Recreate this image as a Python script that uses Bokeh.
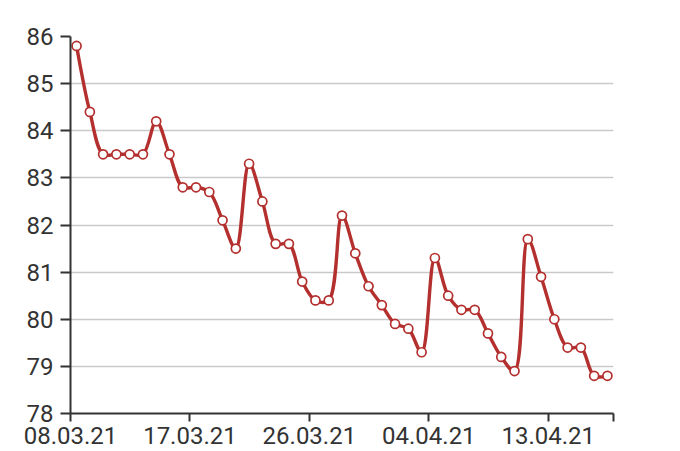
import math
import pandas as pd
from bokeh.plotting import figure
from bokeh.models import FixedTicker, Range1d
from bokeh.embed import file_html
from bokeh.resources import INLINE

# ---- data ----
axis_start = "2021-03-08 00:00"
axis_end = "2021-04-17 22:00"
first_obs = "2021-03-08 11:00"
values = [85.8, 84.4, 83.5, 83.5, 83.5, 83.5, 84.2, 83.5, 82.8, 82.8,
          82.7, 82.1, 81.5, 83.3, 82.5, 81.6, 81.6, 80.8, 80.4, 80.4,
          82.2, 81.4, 80.7, 80.3, 79.9, 79.8, 79.3, 81.3, 80.5, 80.2,
          80.2, 79.7, 79.2, 78.9, 81.7, 80.9, 80.0, 79.4, 79.4, 78.8, 78.8]
tick_dates = ["2021-03-08", "2021-03-17", "2021-03-26", "2021-04-04", "2021-04-13"]
tick_labels = ["08.03.21", "17.03.21", "26.03.21", "04.04.21", "13.04.21"]
y_ticks = [78, 79, 80, 81, 82, 83, 84, 85, 86]

RED = "#b3302e"
TXT = "#333333"

t0 = pd.Timestamp(axis_start)
dates = pd.date_range(first_obs, periods=len(values), freq="D")
xs = [(d - t0).total_seconds() / 86400 for d in dates]
x_end = (pd.Timestamp(axis_end) - t0).total_seconds() / 86400
tick_x = [(pd.Timestamp(d) - t0).total_seconds() / 86400 for d in tick_dates]

W, H = 680, 451
BL, BR, BT, BB = 70, 67, 36, 38
fw = W - BL - BR
fh = H - BT - BB
sx = fw / x_end
sy = fh / (y_ticks[-1] - y_ticks[0])


def catmull_rom(xv, yv, alpha=0.5):
    P = [(a * sx, b * sy) for a, b in zip(xv, yv)]
    n = len(P)
    out = {k: [] for k in ("x0", "y0", "x1", "y1", "cx0", "cy0", "cx1", "cy1")}
    eps = 1e-12

    def dist2a(a, b):
        return ((a[0] - b[0]) ** 2 + (a[1] - b[1]) ** 2) ** alpha

    for i in range(n - 1):
        p0 = P[i - 1] if i > 0 else P[i]
        p1, p2 = P[i], P[i + 1]
        p3 = P[i + 2] if i + 2 < n else P[i + 1]
        l01_2a, l12_2a, l23_2a = dist2a(p0, p1), dist2a(p1, p2), dist2a(p2, p3)
        l01_a, l12_a, l23_a = math.sqrt(l01_2a), math.sqrt(l12_2a), math.sqrt(l23_2a)
        c1 = p1
        if l01_a > eps:
            a = 2 * l01_2a + 3 * l01_a * l12_a + l12_2a
            nn = 3 * l01_a * (l01_a + l12_a)
            c1 = ((p1[0] * a - p0[0] * l12_2a + p2[0] * l01_2a) / nn,
                  (p1[1] * a - p0[1] * l12_2a + p2[1] * l01_2a) / nn)
        c2 = p2
        if l23_a > eps:
            b = 2 * l23_2a + 3 * l23_a * l12_a + l12_2a
            m = 3 * l23_a * (l23_a + l12_a)
            c2 = ((p2[0] * b + p1[0] * l23_2a - p3[0] * l12_2a) / m,
                  (p2[1] * b + p1[1] * l23_2a - p3[1] * l12_2a) / m)
        out["x0"].append(p1[0] / sx); out["y0"].append(p1[1] / sy)
        out["x1"].append(p2[0] / sx); out["y1"].append(p2[1] / sy)
        out["cx0"].append(c1[0] / sx); out["cy0"].append(c1[1] / sy)
        out["cx1"].append(c2[0] / sx); out["cy1"].append(c2[1] / sy)
    return out


p = figure(width=W, height=H, output_backend="svg", toolbar_location=None,
           x_range=Range1d(0, x_end), y_range=Range1d(y_ticks[0], y_ticks[-1]),
           min_border_left=BL, min_border_right=BR, min_border_top=BT, min_border_bottom=BB)
p.outline_line_color = None
p.background_fill_color = "white"
p.border_fill_color = "white"

seg = catmull_rom(xs, values)
p.bezier(x0=seg["x0"], y0=seg["y0"], x1=seg["x1"], y1=seg["y1"],
         cx0=seg["cx0"], cy0=seg["cy0"], cx1=seg["cx1"], cy1=seg["cy1"],
         line_color=RED, line_width=3.4, line_cap="round", line_join="round")
p.scatter(xs, values, size=9, fill_color="white", line_color=RED, line_width=1.7)

# axes
p.xgrid.visible = False
p.ygrid.grid_line_color = "#c9c9c9"
p.ygrid.grid_line_width = 1.6
p.ygrid.ticker = FixedTicker(ticks=y_ticks)

p.xaxis.ticker = FixedTicker(ticks=tick_x + [x_end])
overrides = {t: lab for t, lab in zip(tick_x, tick_labels)}
overrides[x_end] = ""
p.xaxis.major_label_overrides = overrides
p.yaxis.ticker = FixedTicker(ticks=y_ticks)

for ax in (p.xaxis[0], p.yaxis[0]):
    ax.axis_line_color = TXT
    ax.axis_line_width = 2
    ax.major_tick_line_color = TXT
    ax.major_tick_line_width = 2
    ax.major_tick_in = 0
    ax.minor_tick_line_color = None
    ax.major_label_text_font = "Roboto"
    ax.major_label_text_font_size = "24px"
    ax.major_label_text_color = TXT

p.xaxis.major_tick_out = 8
p.xaxis.major_label_standoff = 5
p.yaxis.major_tick_out = 10
p.yaxis.major_label_standoff = 7

open("out.html", "w").write(file_html(p, INLINE))
